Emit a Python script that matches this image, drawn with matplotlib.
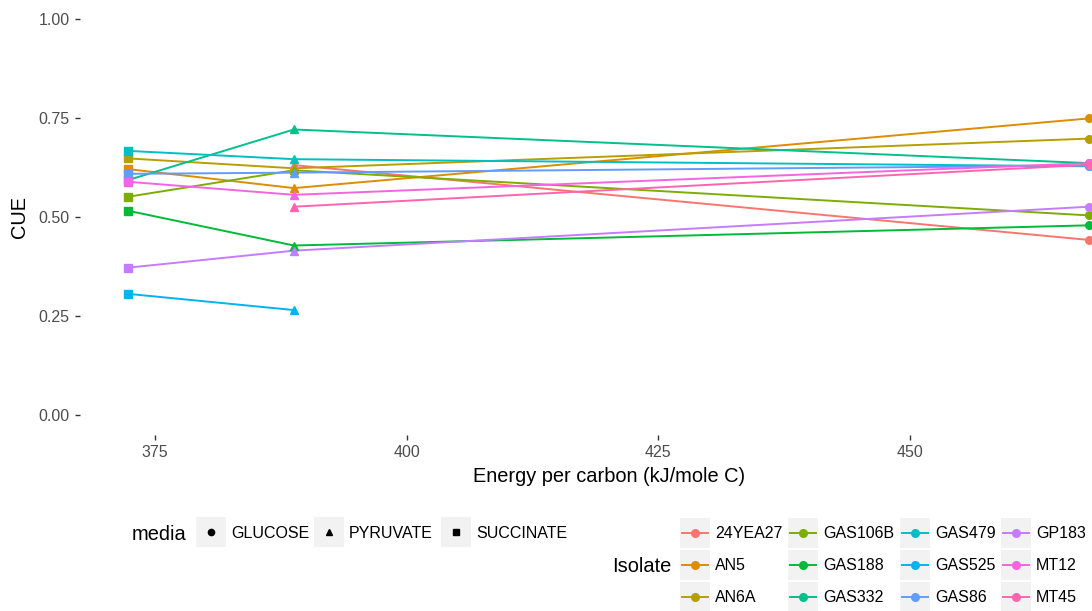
import numpy as np
import matplotlib.pyplot as plt
from matplotlib.lines import Line2D
from matplotlib.patches import Rectangle

plt.rcParams['font.family'] = ['Liberation Sans', 'DejaVu Sans']

# energy per carbon for each medium (kJ/mole C)
media = ["GLUCOSE", "PYRUVATE", "SUCCINATE"]
media_x = [467.8, 388.8, 372.3]
media_marker = ["o", "^", "s"]

isolates = ["24YEA27", "AN5", "AN6A", "GAS106B", "GAS188", "GAS332",
            "GAS479", "GAS525", "GAS86", "GP183", "MT12", "MT45"]
colors = ["#F8766D", "#DE8C00", "#B79F00", "#7CAE00", "#00BA38", "#00C08B",
          "#00BFC4", "#00B4F0", "#619CFF", "#C77CFF", "#F564E3", "#FF64B0"]

# CUE per isolate: [glucose, pyruvate, succinate]
cue_glucose = [0.442, 0.749, 0.698, 0.504, 0.479, 0.636,
               0.628, np.nan, 0.630, 0.526, 0.636, 0.632]
cue_pyruvate = [0.631, 0.573, 0.623, 0.618, 0.428, 0.721,
                0.646, 0.265, 0.612, 0.415, 0.556, 0.526]
cue_succinate = [np.nan, 0.621, 0.648, 0.551, 0.516, 0.593,
                 0.667, 0.306, 0.609, 0.372, 0.589, np.nan]

fig = plt.figure(figsize=(10.92, 6.11), dpi=100)
W, H = 1092, 611
ax = fig.add_axes([80 / W, 1 - 434.8 / H, (1138.5 - 80) / W, 435.6 / H])

for i, name in enumerate(isolates):
    ys = [cue_glucose[i], cue_pyruvate[i], cue_succinate[i]]
    pts = sorted([(x, y) for x, y in zip(media_x, ys) if not np.isnan(y)])
    ax.plot([p[0] for p in pts], [p[1] for p in pts], color=colors[i], lw=1.4, zorder=2)
    for x, y, m in zip(media_x, ys, media_marker):
        if not np.isnan(y):
            ax.plot(x, y, marker=m, color=colors[i], ms=6 if m != "o" else 5.5,
                    ls="none", zorder=3)

ax.set_xlim(367.55, 472.7)
ax.set_ylim(-0.05, 1.05)
ax.set_xticks([375, 400, 425, 450])
ax.set_yticks([0, 0.25, 0.5, 0.75, 1.0])
ax.set_yticklabels(["0.00", "0.25", "0.50", "0.75", "1.00"])
for s in ax.spines.values():
    s.set_visible(False)
ax.tick_params(colors="#333333", labelcolor="#4D4D4D", labelsize=11.5,
               length=3.5, width=1, pad=4)
ax.set_xlabel("Energy per carbon (kJ/mole C)", fontsize=14.4, labelpad=5)
ax.set_ylabel("CUE", fontsize=14.4, labelpad=7)

# legends drawn in pixel coordinates
def px(x, y):
    return x / W, 1 - y / H

def key_box(x, y):
    fig.add_artist(Rectangle(px(x, y + 30), 30 / W, 30 / H, transform=fig.transFigure,
                             facecolor="#F2F2F2", edgecolor="none"))

# media legend
fig.text(*px(132, 534), "media", fontsize=14.4, va="center", ha="left")
media_box_x = [196, 314, 441]
for j, name in enumerate(media):
    bx = media_box_x[j]
    key_box(bx, 517)
    fig.add_artist(Line2D([px(bx + 15, 0)[0]], [px(0, 532)[1]], marker=media_marker[j],
                          color="black", ms=4.5, ls="none", transform=fig.transFigure))
    fig.text(*px(bx + 35, 533), name, fontsize=11.5, va="center", ha="left")

# isolate legend
fig.text(*px(612, 566), "Isolate", fontsize=14.4, va="center", ha="left")
col_x = [680, 788, 900, 1001]
row_y = [517.5, 549.5, 581.5]
for i, name in enumerate(isolates):
    bx = col_x[i // 3]
    by = row_y[i % 3]
    key_box(bx, by)
    cx, cy = bx + 15, by + 15
    fig.add_artist(Line2D([px(bx + 2, 0)[0], px(bx + 28, 0)[0]], [px(0, cy)[1]] * 2,
                          color=colors[i], lw=1.4, transform=fig.transFigure))
    fig.add_artist(Line2D([px(cx, 0)[0]], [px(0, cy)[1]], marker="o", color=colors[i],
                          ms=5.5, ls="none", transform=fig.transFigure))
    fig.text(*px(bx + 35, cy + 1), name, fontsize=11.5, va="center", ha="left")

fig.savefig("out.png", dpi=100)
